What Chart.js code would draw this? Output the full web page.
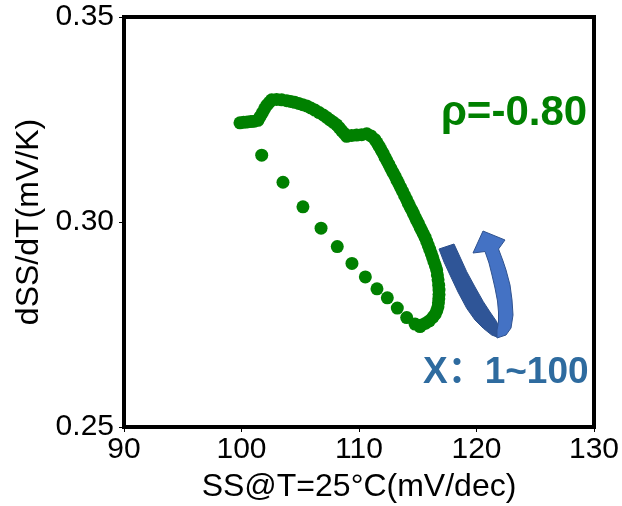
<!DOCTYPE html>
<html>
<head>
<meta charset="utf-8">
<script src="https://cdn.jsdelivr.net/npm/chart.js@4.4.1/dist/chart.umd.min.js"></script>
<style>
  html, body { margin: 0; padding: 0; background: #fff; }
</style>
</head>
<body>
<canvas id="myChart" width="622" height="506"></canvas>
<script>
// SS at 25°C (mV/dec), points X = 1..100
const ssValues = [
  99.87, 100.18, 100.49, 100.80, 101.10, 101.40, 101.58, 101.77, 101.96, 102.16,
  102.37, 102.57, 102.99, 103.42, 103.85, 104.19, 104.53, 104.87, 105.21, 105.55,
  105.90, 106.25, 106.61, 106.96, 107.25, 107.53, 107.82, 108.10, 108.31, 108.52,
  108.74, 108.95, 109.38, 109.80, 110.23, 110.66, 111.02, 111.36, 111.54, 111.71,
  111.88, 112.04, 112.21, 112.38, 112.55, 112.72, 112.89, 113.06, 113.23, 113.39,
  113.55, 113.71, 113.87, 114.03, 114.19, 114.34, 114.49, 114.63, 114.77, 114.91,
  115.06, 115.20, 115.34, 115.48, 115.62, 115.76, 115.89, 116.02, 116.15, 116.27,
  116.38, 116.50, 116.61, 116.67, 116.73, 116.78, 116.81, 116.81, 116.79, 116.76,
  116.72, 116.62, 116.48, 116.30, 115.99, 115.67, 115.34, 115.19, 114.77, 114.06,
  113.26, 112.41, 111.53, 110.54, 109.40, 108.15, 106.77, 105.23, 103.53, 101.72
];
// dSS/dT (mV/K)
const slopeValues = [
  0.3242, 0.3243, 0.3244, 0.3245, 0.3246, 0.3248, 0.3257, 0.3266, 0.3276, 0.3285,
  0.3292, 0.3298, 0.3299, 0.3298, 0.3296, 0.3294, 0.3292, 0.3289, 0.3286, 0.3283,
  0.3278, 0.3273, 0.3267, 0.3261, 0.3255, 0.3249, 0.3243, 0.3237, 0.3230, 0.3223,
  0.3216, 0.3209, 0.3211, 0.3212, 0.3213, 0.3215, 0.3210, 0.3201, 0.3193, 0.3185,
  0.3176, 0.3168, 0.3158, 0.3149, 0.3140, 0.3130, 0.3121, 0.3112, 0.3102, 0.3093,
  0.3084, 0.3075, 0.3065, 0.3056, 0.3046, 0.3037, 0.3029, 0.3021, 0.3012, 0.3004,
  0.2996, 0.2987, 0.2979, 0.2971, 0.2963, 0.2953, 0.2943, 0.2933, 0.2923, 0.2913,
  0.2903, 0.2893, 0.2883, 0.2871, 0.2859, 0.2846, 0.2834, 0.2823, 0.2813, 0.2803,
  0.2793, 0.2784, 0.2775, 0.2768, 0.2759, 0.2753, 0.2749, 0.2745, 0.2751, 0.2767,
  0.2790, 0.2815, 0.2837, 0.2866, 0.2899, 0.2940, 0.2985, 0.3037, 0.3097, 0.3163
];
const xTicks = [90, 100, 110, 120, 130];
const yTicks = [0.25, 0.30, 0.35];
const rhoLabel = "ρ=-0.80";
const rangeLabel = "X：1~100";

const FONT = '"Liberation Sans", Arial, sans-serif';
const points = ssValues.map((x, i) => ({ x: x, y: slopeValues[i] }));

function polygon(ctx, pts) {
  ctx.beginPath();
  ctx.moveTo(pts[0][0], pts[0][1]);
  for (let i = 1; i < pts.length; i++) ctx.lineTo(pts[i][0], pts[i][1]);
  ctx.closePath();
}

// black frame round the plot, plus the two text notes and the curved arrow
const decorations = {
  id: "decorations",
  afterDraw(chart) {
    const { ctx, chartArea: a } = chart;
    ctx.save();
    ctx.strokeStyle = "#000";
    ctx.lineWidth = 4;
    ctx.strokeRect(a.left, a.top, a.right - a.left, a.bottom - a.top);

    ctx.fillStyle = "#008000";
    ctx.font = 'bold 42px ' + FONT;
    ctx.textAlign = "center";
    ctx.textBaseline = "alphabetic";
    ctx.fillText(rhoLabel, 514, 125);

    ctx.fillStyle = "#2e6b9f";
    ctx.font = 'bold 37px "Liberation Sans", "Noto Sans CJK SC", sans-serif';
    ctx.textAlign = "left";
    ctx.fillText(rangeLabel, 423, 383);

    ctx.lineWidth = 1;
    // dark back part of the ribbon
    polygon(ctx, [
      [439, 249], [454, 244], [460, 257], [466.7, 271.7], [475, 287], [483.3, 301.7],
      [490, 312], [496.7, 321.7], [498.5, 327], [497, 337], [491.7, 335], [483.3, 328.3],
      [475, 320], [466.7, 308.3], [458, 292], [450, 275], [444, 262]
    ]);
    ctx.fillStyle = "#2f5597";
    ctx.fill();
    ctx.strokeStyle = "#2a4e8a";
    ctx.stroke();

    // light front part with the head
    polygon(ctx, [
      [497, 338], [506, 335], [511, 328], [513, 315], [512, 300], [510, 285], [506, 270],
      [503, 261], [498.5, 249], [505, 240], [483, 231], [473, 253], [485, 251.5],
      [489, 263], [492, 275], [495, 288], [497.5, 301], [498.5, 312], [498.5, 322], [497, 330]
    ]);
    ctx.fillStyle = "#4472c4";
    ctx.fill();
    ctx.strokeStyle = "#2f528f";
    ctx.stroke();
    ctx.restore();
  }
};

new Chart(document.getElementById("myChart"), {
  type: "scatter",
  data: {
    datasets: [{
      data: points,
      backgroundColor: "#008000",
      borderWidth: 0,
      pointRadius: 6.5,
      pointHoverRadius: 6.5
    }]
  },
  options: {
    responsive: false,
    animation: false,
    events: [],
    layout: { padding: { top: 17, right: 28, left: 0, bottom: 0 } },
    plugins: { legend: { display: false }, tooltip: { enabled: false } },
    scales: {
      x: {
        type: "linear",
        min: 90,
        max: 130,
        afterBuildTicks: (s) => { s.ticks = xTicks.map(v => ({ value: v })); },
        afterFit: (s) => { s.height = 79; s.paddingLeft = 0; s.paddingRight = 0; },
        ticks: { color: "#000", font: { size: 30, family: FONT }, padding: 0, maxRotation: 0 },
        grid: { drawOnChartArea: false, drawTicks: true, tickLength: 5, color: "#000", lineWidth: 1 },
        border: { display: true, color: "#000", width: 4 },
        title: {
          display: true,
          text: "SS@T=25°C(mV/dec)",
          color: "#000",
          font: { size: 32, family: FONT },
          padding: { top: 0, bottom: 0 }
        }
      },
      y: {
        type: "linear",
        min: 0.25,
        max: 0.35,
        afterBuildTicks: (s) => { s.ticks = yTicks.map(v => ({ value: v })); },
        afterFit: (s) => { s.width = 124; s.paddingTop = 0; s.paddingBottom = 0; },
        ticks: {
          color: "#000",
          font: { size: 30, family: FONT },
          padding: 5,
          callback: (v) => v.toFixed(2)
        },
        grid: { drawOnChartArea: false, drawTicks: true, tickLength: 5, color: "#000", lineWidth: 1 },
        border: { display: true, color: "#000", width: 4 },
        title: {
          display: true,
          text: "dSS/dT(mV/K)",
          color: "#000",
          font: { size: 32, family: FONT },
          padding: { top: 10, bottom: 0 }
        }
      }
    }
  },
  plugins: [decorations]
});
</script>
</body>
</html>
